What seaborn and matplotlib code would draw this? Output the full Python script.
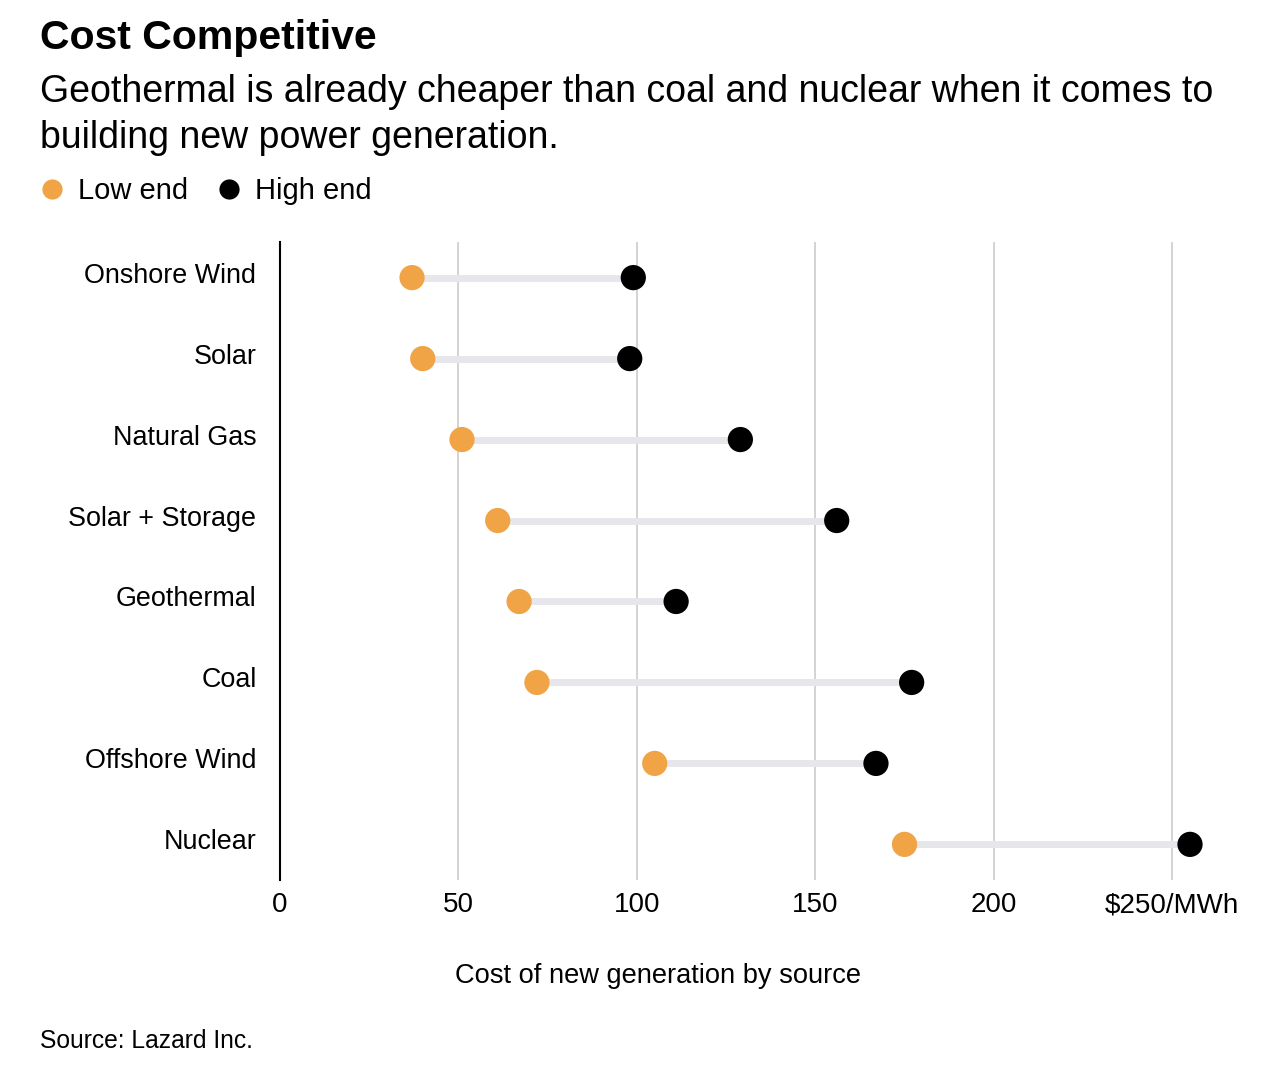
import matplotlib
matplotlib.use("Agg")
import matplotlib.pyplot as plt
import matplotlib.transforms as mtransforms
import seaborn as sns
import pandas as pd

# values ($/MWh)
sources = ["Onshore Wind", "Solar", "Natural Gas", "Solar + Storage",
           "Geothermal", "Coal", "Offshore Wind", "Nuclear"]
low_end = [37, 40, 51, 61, 67, 72, 105, 175]
high_end = [99, 98, 129, 156, 111, 177, 167, 255]
x_ticks = [0, 50, 100, 150, 200, 250]
x_tick_labels = ["0", "50", "100", "150", "200", "$250/MWh"]

ORANGE = "#f0a445"
BLACK = "#000000"
RANGE_GREY = "#e6e6eb"
GRID_GREY = "#d3d3d3"

sns.set_theme(style="white")
plt.rcParams["font.family"] = ["Liberation Sans", "DejaVu Sans"]
plt.rcParams["text.color"] = "black"
plt.rcParams["axes.labelcolor"] = "black"
plt.rcParams["xtick.color"] = "black"
plt.rcParams["ytick.color"] = "black"

df = pd.DataFrame({
    "source": sources * 2,
    "cost": low_end + high_end,
    "end": ["Low end"] * len(sources) + ["High end"] * len(sources),
})

fig = plt.figure(figsize=(12.8, 10.86), dpi=100)
ax = fig.add_axes([280 / 1280, 1 - 880 / 1086, 935 / 1280, (880 - 242) / 1086])

# grey range bars
for i, (lo, hi) in enumerate(zip(low_end, high_end)):
    ax.plot([lo, hi], [i, i], color=RANGE_GREY, lw=5, solid_capstyle="butt", zorder=2)

sns.scatterplot(data=df, x="cost", y="source", hue="end",
                palette={"Low end": ORANGE, "High end": BLACK},
                s=330, linewidth=0, ax=ax, zorder=3)

ax.set_xlim(0, 262)
ax.set_ylim(len(sources) - 0.56, -0.44)
ax.set_xticks(x_ticks)
ax.set_xticklabels(x_tick_labels)
for xv in x_ticks[1:]:
    ax.axvline(xv, color=GRID_GREY, lw=1.4, zorder=1)

for side in ["top", "right", "bottom"]:
    ax.spines[side].set_visible(False)
ax.spines["left"].set_color("#000000")
ax.spines["left"].set_linewidth(1.5)
ax.tick_params(axis="y", length=0, pad=17, labelsize=19.4)
ax.tick_params(axis="x", length=0, pad=9, labelsize=20)
ax.set_xlabel("")
ax.set_ylabel("")

# nudge row labels up a little, like the reference
shift = mtransforms.ScaledTranslation(0, 5 / 100, fig.dpi_scale_trans)
for lab in ax.get_yticklabels():
    lab.set_transform(lab.get_transform() + shift)

# legend up under the subtitle
handles, labels = ax.get_legend_handles_labels()
ax.legend(handles, labels, loc="center left", bbox_to_anchor=(11 / 1280, 1 - 191 / 1086),
          bbox_transform=fig.transFigure, ncol=2, frameon=False, fontsize=21,
          handlelength=1.0, handletextpad=0.4, columnspacing=0.9, markerscale=0.8)

fig.text(40 / 1280, 1 - 38 / 1086, "Cost Competitive", fontsize=29.5, fontweight="bold",
         va="center", ha="left")
fig.text(40 / 1280, 1 - 92 / 1086,
         "Geothermal is already cheaper than coal and nuclear when it comes to",
         fontsize=27, va="center", ha="left")
fig.text(40 / 1280, 1 - 138 / 1086, "building new power generation.",
         fontsize=27, va="center", ha="left")
fig.text(658 / 1280, 1 - 976 / 1086, "Cost of new generation by source",
         fontsize=19.6, va="center", ha="center")
fig.text(40 / 1280, 1 - 1041 / 1086, "Source: Lazard Inc.", fontsize=17.7,
         va="center", ha="left")

fig.savefig("out.png", dpi=100)
